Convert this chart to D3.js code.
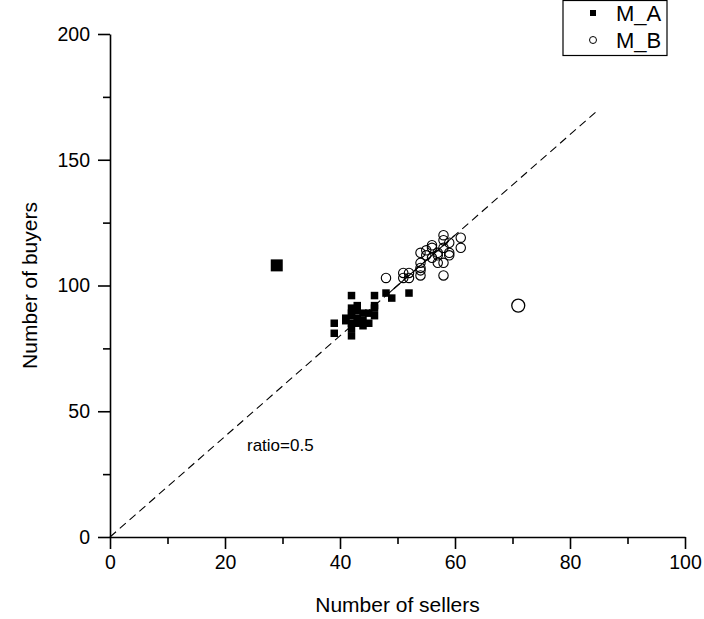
<!DOCTYPE html>
<html>
<head>
<meta charset="utf-8">
<script src="https://cdn.jsdelivr.net/npm/d3@7"></script>
<style>
  body { margin: 0; background: #fff; }
  text { font-family: "Liberation Sans", Arial, sans-serif; }
</style>
</head>
<body>
<div id="chart"></div>
<script>
  // M_A: [sellers, buyers]
  const seriesA = [
    [39, 85], [39, 81], [41, 87], [41, 86], [42, 96], [42, 91], [42, 89], [42, 88],
    [42, 85], [42, 83], [42, 80], [43, 92], [43, 90], [43, 87], [43, 85], [44, 89],
    [44, 86], [44, 84], [45, 89], [45, 85], [46, 96], [46, 92], [46, 88], [46, 91],
    [48, 97], [49, 95], [52, 97]
  ];
  const outlierA = [[29, 108]];

  // M_B: [sellers, buyers]
  const seriesB = [
    [48, 103], [51, 105], [51, 103], [52, 105], [52, 103], [54, 109], [54, 107], [54, 106],
    [54, 104], [54, 113], [55, 112], [55, 114], [56, 116], [56, 115], [56, 111], [57, 112],
    [57, 109], [57, 113], [58, 120], [58, 118], [58, 115], [58, 109], [58, 104], [59, 117],
    [59, 113], [59, 112], [61, 119], [61, 115]
  ];
  const outlierB = [[71, 92]];

  // ratio line end points, and the solid stretch over the data
  const ratioLine = [[0, 0], [85, 170]];
  const fitLine = [[48, 96], [60, 120]];

  const xTicks = [0, 20, 40, 60, 80, 100];
  const xMinor = [10, 30, 50, 70, 90];
  const yTicks = [0, 50, 100, 150, 200];
  const yMinor = [25, 75, 125, 175];

  const width = 704, height = 619;
  const tickFont = "19.5px";

  const svg = d3.select("#chart").append("svg")
    .attr("width", width)
    .attr("height", height);

  const x = d3.scaleLinear().domain([0, 100]).range([110, 685]);
  const y = d3.scaleLinear().domain([0, 200]).range([537, 34]);

  // x axis
  svg.append("g")
    .attr("transform", `translate(0,${y(0)})`)
    .call(d3.axisBottom(x).tickValues(xMinor).tickSize(7).tickFormat(""))
    .call(g => g.select(".domain").remove())
    .call(g => g.selectAll("line").attr("stroke-width", 1.6));

  svg.append("g")
    .attr("transform", `translate(0,${y(0)})`)
    .call(d3.axisBottom(x).tickValues(xTicks).tickSize(12).tickSizeOuter(0).tickPadding(6))
    .call(g => g.select(".domain").attr("stroke-width", 1.6))
    .call(g => g.selectAll("line").attr("stroke-width", 1.6))
    .call(g => g.selectAll("text")
      .attr("font-size", tickFont)
      .attr("font-family", "Liberation Sans, Arial, sans-serif")
      .attr("fill", "#000"));

  // y axis
  svg.append("g")
    .attr("transform", `translate(${x(0)},0)`)
    .call(d3.axisLeft(y).tickValues(yMinor).tickSize(7).tickFormat(""))
    .call(g => g.select(".domain").remove())
    .call(g => g.selectAll("line").attr("stroke-width", 1.6));

  svg.append("g")
    .attr("transform", `translate(${x(0)},0)`)
    .call(d3.axisLeft(y).tickValues(yTicks).tickSize(12).tickSizeOuter(0).tickPadding(8))
    .call(g => g.select(".domain").attr("stroke-width", 1.6))
    .call(g => g.selectAll("line").attr("stroke-width", 1.6))
    .call(g => g.selectAll("text")
      .attr("font-size", tickFont)
      .attr("font-family", "Liberation Sans, Arial, sans-serif")
      .attr("fill", "#000"));

  // axis titles
  svg.append("text")
    .attr("x", (x(0) + x(100)) / 2)
    .attr("y", 612)
    .attr("text-anchor", "middle")
    .attr("font-size", "21px")
    .text("Number of sellers");

  svg.append("text")
    .attr("transform", `translate(37,${(y(0) + y(200)) / 2}) rotate(-90)`)
    .attr("text-anchor", "middle")
    .attr("font-size", "21px")
    .text("Number of buyers");

  // dashed ratio line
  svg.append("line")
    .attr("x1", x(ratioLine[0][0])).attr("y1", y(ratioLine[0][1]))
    .attr("x2", x(ratioLine[1][0])).attr("y2", y(ratioLine[1][1]))
    .attr("stroke", "#000")
    .attr("stroke-width", 1.1)
    .attr("stroke-dasharray", "8,5");

  svg.append("line")
    .attr("x1", x(fitLine[0][0])).attr("y1", y(fitLine[0][1]))
    .attr("x2", x(fitLine[1][0])).attr("y2", y(fitLine[1][1]))
    .attr("stroke", "#000")
    .attr("stroke-width", 1.1);

  svg.append("text")
    .attr("x", 247)
    .attr("y", 451)
    .attr("font-size", "17px")
    .text("ratio=0.5");

  // M_A squares
  const sq = 7.5;
  svg.append("g").selectAll("rect")
    .data(seriesA)
    .join("rect")
    .attr("x", d => x(d[0]) - sq / 2)
    .attr("y", d => y(d[1]) - sq / 2)
    .attr("width", sq)
    .attr("height", sq)
    .attr("fill", "#000");

  const bigSq = 12;
  svg.append("g").selectAll("rect")
    .data(outlierA)
    .join("rect")
    .attr("x", d => x(d[0]) - bigSq / 2)
    .attr("y", d => y(d[1]) - bigSq / 2)
    .attr("width", bigSq)
    .attr("height", bigSq)
    .attr("fill", "#000");

  // M_B circles
  svg.append("g").selectAll("circle")
    .data(seriesB)
    .join("circle")
    .attr("cx", d => x(d[0]))
    .attr("cy", d => y(d[1]))
    .attr("r", 4.7)
    .attr("fill", "none")
    .attr("stroke", "#000")
    .attr("stroke-width", 1.1);

  svg.append("g").selectAll("circle")
    .data(outlierB)
    .join("circle")
    .attr("cx", d => x(d[0]))
    .attr("cy", d => y(d[1]))
    .attr("r", 6.5)
    .attr("fill", "none")
    .attr("stroke", "#000")
    .attr("stroke-width", 1.3);

  // legend
  const legend = svg.append("g");
  legend.append("rect")
    .attr("x", 563).attr("y", 0.5)
    .attr("width", 104).attr("height", 55)
    .attr("fill", "#fff")
    .attr("stroke", "#000")
    .attr("stroke-width", 1.2);

  legend.append("rect")
    .attr("x", 590).attr("y", 10)
    .attr("width", 6).attr("height", 6)
    .attr("fill", "#000");
  legend.append("text")
    .attr("x", 616).attr("y", 21)
    .attr("font-size", "22px")
    .text("M_A");

  legend.append("circle")
    .attr("cx", 593).attr("cy", 40)
    .attr("r", 3.5)
    .attr("fill", "none")
    .attr("stroke", "#000")
    .attr("stroke-width", 1);
  legend.append("text")
    .attr("x", 616).attr("y", 48)
    .attr("font-size", "22px")
    .text("M_B");
</script>
</body>
</html>
